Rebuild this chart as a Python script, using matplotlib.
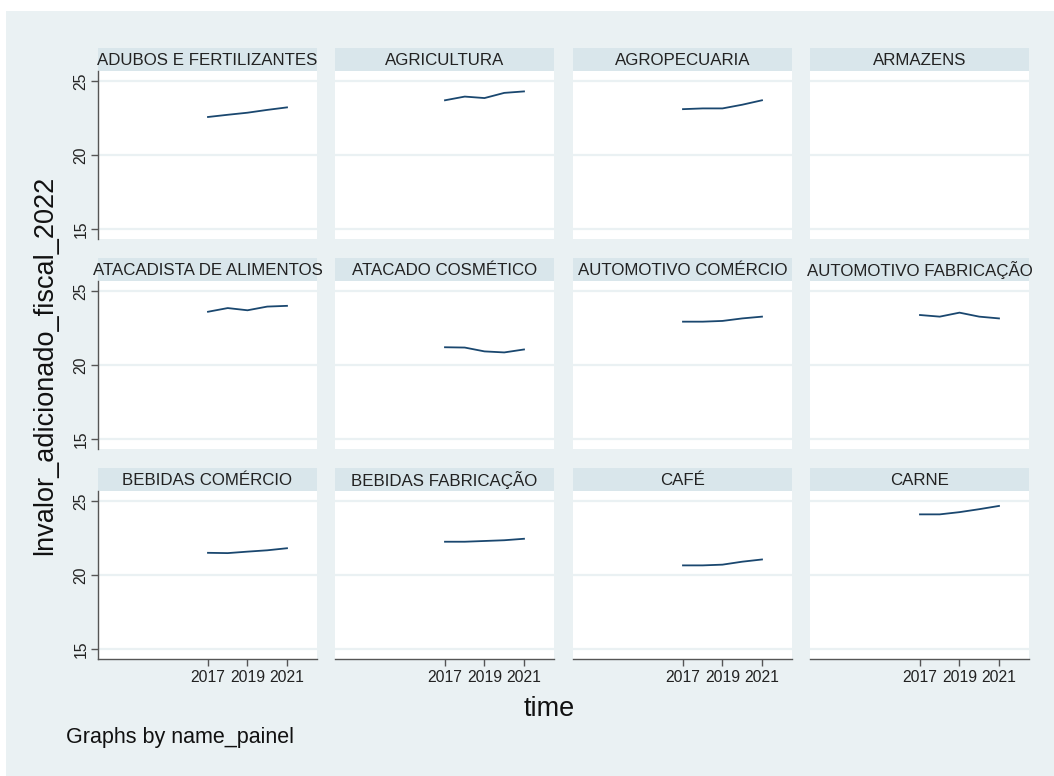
import matplotlib
matplotlib.use("Agg")
import matplotlib.pyplot as plt
from matplotlib.patches import Rectangle

plt.rcParams['font.family'] = ['Liberation Sans', 'DejaVu Sans']

# ---- data ----
years = [2017, 2018, 2019, 2020, 2021]
panel_names = [
    "ADUBOS E FERTILIZANTES", "AGRICULTURA", "AGROPECUARIA", "ARMAZENS",
    "ATACADISTA DE ALIMENTOS", "ATACADO COSMÉTICO", "AUTOMOTIVO COMÉRCIO", "AUTOMOTIVO FABRICAÇÃO",
    "BEBIDAS COMÉRCIO", "BEBIDAS FABRICAÇÃO", "CAFÉ", "CARNE",
]
adubos = [22.57, 22.72, 22.86, 23.05, 23.22]
agricultura = [23.70, 23.95, 23.85, 24.20, 24.30]
agropecuaria = [23.10, 23.15, 23.15, 23.40, 23.70]
armazens = []
atacadista = [23.60, 23.85, 23.70, 23.95, 24.00]
atacado_cosm = [21.20, 21.18, 20.92, 20.85, 21.05]
auto_comercio = [22.93, 22.93, 22.98, 23.15, 23.27]
auto_fabric = [23.38, 23.27, 23.54, 23.27, 23.15]
bebidas_com = [21.50, 21.48, 21.58, 21.67, 21.81]
bebidas_fab = [22.25, 22.25, 22.30, 22.35, 22.45]
cafe = [20.65, 20.65, 20.70, 20.90, 21.05]
carne = [24.10, 24.10, 24.25, 24.45, 24.67]
series = [adubos, agricultura, agropecuaria, armazens,
          atacadista, atacado_cosm, auto_comercio, auto_fabric,
          bebidas_com, bebidas_fab, cafe, carne]
y_ticks = [15, 20, 25]
x_ticks = [2017, 2019, 2021]

# ---- style ----
W, H = 1054, 776
BG = "#EAF1F3"
STRIP = "#D9E6EB"
LINE = "#1A476F"
GRID = "#EAF1F3"
AXC = "#555555"

fig = plt.figure(figsize=(W / 100, H / 100), dpi=100)
fig.patch.set_facecolor("white")
fig.patches.append(Rectangle((6 / W, 0), 1 - 6 / W, 1 - 11 / H, transform=fig.transFigure,
                             facecolor=BG, edgecolor="none", zorder=-10))

col_x = [98, 335, 573, 810]
row_top = [71, 281, 491]
pw, ph = 219, 168
strip_h = 23

for i, (name, vals) in enumerate(zip(panel_names, series)):
    r, c = divmod(i, 4)
    x0 = col_x[c]
    yt = row_top[r]
    ax = fig.add_axes([x0 / W, 1 - (yt + ph) / H, pw / W, ph / H])
    ax.set_zorder(1)
    ax.set_facecolor("white")
    ax.set_xlim(2011.43, 2022.52)
    ax.set_ylim(14.32, 25.68)
    for yv in y_ticks:
        ax.axhline(yv, color=GRID, lw=1.6, zorder=1)
    if vals:
        ax.plot(years[:len(vals)], vals, color=LINE, lw=1.3, zorder=3)
    for s in ax.spines.values():
        s.set_visible(False)
    ax.set_yticks(y_ticks)
    ax.set_xticks(x_ticks)
    if c == 0:
        ax.spines['left'].set_visible(True)
        ax.spines['left'].set_color(AXC)
        ax.spines['left'].set_linewidth(1.0)
        ax.tick_params(axis='y', length=5, width=1.0, color=AXC, labelsize=11.3,
                       labelcolor="#222222", pad=2)
        for lab in ax.get_yticklabels():
            lab.set_rotation(90)
            lab.set_va('center')
    else:
        ax.tick_params(axis='y', left=False, labelleft=False)
    if r == 2:
        ax.spines['bottom'].set_visible(True)
        ax.spines['bottom'].set_color(AXC)
        ax.spines['bottom'].set_linewidth(1.0)
        ax.tick_params(axis='x', length=5, width=1.0, color=AXC, labelsize=11.3,
                       labelcolor="#222222", pad=3)
    else:
        ax.tick_params(axis='x', bottom=False, labelbottom=False)
    # strip title
    sy = yt - strip_h
    fig.patches.append(Rectangle((x0 / W, 1 - yt / H), pw / W, strip_h / H,
                                 transform=fig.transFigure, facecolor=STRIP,
                                 edgecolor="none", zorder=-5))
    fig.text((x0 + pw / 2) / W, 1 - (sy + strip_h / 2 + 1) / H, name,
             ha='center', va='center', fontsize=12.2, color="#222222")

fig.text(45 / W, 1 - 365 / H, "lnvalor_adicionado_fiscal_2022", rotation=90,
         ha='center', va='center', fontsize=19.5, color="#111111")
fig.text(549 / W, 1 - 709 / H, "time", ha='center', va='center',
         fontsize=19.5, color="#111111")
fig.text(66 / W, 1 - 738 / H, "Graphs by name_painel", ha='left', va='center',
         fontsize=15.5, color="#111111")

fig.savefig("out.png", dpi=100, facecolor=fig.get_facecolor())
